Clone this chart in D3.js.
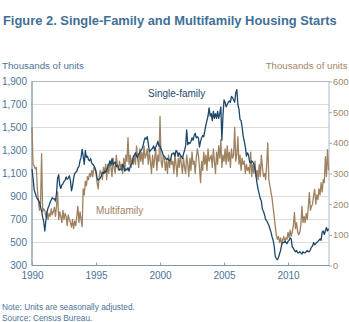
<!DOCTYPE html>
<html>
<head>
<meta charset="utf-8">
<script src="https://cdn.jsdelivr.net/npm/d3@7"></script>
<style>
  html, body { margin: 0; padding: 0; background: #fff; }
  svg { display: block; font-family: "Liberation Sans", Arial, sans-serif; }
</style>
</head>
<body>
<svg id="chart" width="349" height="322"></svg>
<script>
// Monthly housing starts, thousands of units (SAAR), Jan 1990 .. Mar 2013.
// One row per year.
const START_YEAR = 1990;
const SINGLE_FAMILY = [
  [1140,1060, 960, 930, 900, 880, 870, 850, 810, 770, 720, 680],  // 1990
  [ 600, 690, 760, 800, 820, 850, 870, 890, 880, 880, 860, 930],  // 1991
  [1060,1090,1000, 970,1000,1010,1030,1040,1070,1050,1060,1080],  // 1992
  [1040, 950, 990,1060,1100,1110,1120,1150,1160,1210,1240,1310],  // 1993
  [1250,1180,1300,1240,1250,1220,1210,1230,1190,1180,1170,1150],  // 1994
  [1120,1060,1040,1050,1060,1080,1110,1100,1120,1110,1130,1160],  // 1995
  [1180,1210,1170,1230,1180,1190,1200,1160,1170,1150,1130,1140],  // 1996
  [1130,1180,1160,1120,1140,1130,1150,1120,1160,1180,1190,1250],  // 1997
  [1260,1280,1250,1240,1270,1280,1300,1310,1340,1380,1410,1400],  // 1998
  [1420,1360,1290,1300,1310,1320,1340,1300,1330,1350,1380,1340],  // 1999
  [1340,1310,1290,1260,1250,1240,1220,1230,1220,1210,1220,1270],  // 2000
  [1270,1280,1250,1300,1290,1250,1280,1260,1250,1230,1270,1300],  // 2001
  [1340,1480,1350,1370,1360,1380,1410,1390,1430,1450,1410,1420],  // 2002
  [1410,1330,1380,1410,1430,1420,1470,1520,1560,1600,1670,1600],  // 2003
  [1620,1560,1640,1580,1620,1580,1640,1580,1620,1680,1390,1600],  // 2004
  [1740,1720,1680,1700,1720,1730,1720,1770,1760,1740,1720,1800],  // 2005
  [1830,1700,1660,1570,1560,1500,1420,1380,1330,1250,1280,1260],  // 2006
  [1200,1190,1210,1200,1180,1140,1080,1010, 960, 920, 880, 860],  // 2007
  [ 790, 770, 740, 700, 690, 670, 650, 620, 590, 550, 520, 470],  // 2008
  [ 380, 360, 350, 370, 400, 430, 480, 500, 500, 510, 500, 490],  // 2009
  [ 510, 520, 540, 530, 460, 450, 430, 420, 430, 410, 410, 420],  // 2010
  [ 410, 400, 420, 410, 410, 420, 430, 420, 420, 440, 460, 470],  // 2011
  [ 500, 480, 490, 500, 510, 520, 530, 520, 590, 600, 570, 600],  // 2012
  [ 630, 600, 620]                                                 // 2013
];
const MULTIFAMILY = [
  [450, 330, 325, 315, 320, 250, 210, 180, 200, 365, 175, 185],  // 1990
  [180, 160, 175, 150, 170, 160, 185, 165, 175, 190, 160, 195],  // 1991
  [240, 150, 175, 160, 140, 180, 150, 170, 160, 130, 165, 150],  // 1992
  [140, 125, 150, 120, 145, 130, 160, 193, 140, 175, 150, 127],  // 1993
  [250, 230, 275, 260, 290, 280, 300, 290, 310, 290, 320, 315],  // 1994
  [300, 270, 250, 290, 310, 300, 280, 320, 300, 330, 280, 330],  // 1995
  [300, 340, 320, 290, 350, 320, 300, 360, 330, 310, 340, 320],  // 1996
  [330, 300, 350, 310, 360, 340, 417, 330, 360, 320, 350, 330],  // 1997
  [360, 330, 390, 350, 320, 380, 340, 370, 330, 390, 350, 360],  // 1998
  [380, 330, 370, 340, 300, 360, 320, 350, 380, 310, 360, 340],  // 1999
  [486, 340, 320, 360, 350, 310, 340, 300, 360, 320, 350, 330],  // 2000
  [340, 300, 360, 330, 290, 350, 320, 360, 330, 300, 350, 320],  // 2001
  [300, 360, 330, 290, 350, 310, 370, 330, 340, 300, 350, 380],  // 2002
  [360, 320, 270, 340, 310, 370, 330, 360, 310, 380, 340, 350],  // 2003
  [360, 320, 380, 340, 300, 370, 330, 390, 350, 410, 320, 360],  // 2004
  [340, 380, 330, 390, 340, 370, 320, 380, 350, 360, 450, 340],  // 2005
  [360, 420, 330, 360, 310, 350, 330, 340, 300, 330, 310, 320],  // 2006
  [300, 370, 290, 330, 300, 340, 290, 310, 280, 330, 290, 360],  // 2007
  [320, 290, 300, 280, 330, 400, 280, 260, 240, 220, 190, 160],  // 2008
  [130, 100,  85,  95,  75,  90,  70,  85,  95,  75,  90,  85],  // 2009
  [108,  90, 115,  95, 110, 130, 173, 120, 140, 110, 100, 108],  // 2010
  [130, 193, 140, 160, 140, 170, 150, 190, 238, 180, 193, 200],  // 2011
  [230, 248, 200, 230, 215, 250, 230, 270, 240, 280, 270, 355],  // 2012
  [290, 378, 310]                                                 // 2013
];
const LEFT_TICKS = [300, 500, 700, 900, 1100, 1300, 1500, 1700, 1900];
const RIGHT_TICKS = [0, 100, 200, 300, 400, 500, 600];
const YEAR_TICKS = [1990, 1995, 2000, 2005, 2010];

const monthly = rows => rows.flat().map((v,i)=>({t: START_YEAR + i/12, v}));
const sf = monthly(SINGLE_FAMILY), mf = monthly(MULTIFAMILY);

const C_TITLE = "#3f6f95", C_LEFT = "#4c7398", C_RIGHT = "#a18663";
const C_SF = "#1d4769", C_MF = "#9e8260";

const svg = d3.select("#chart");
const L = 32, R = 329, T = 81.5, B = 265.5;

const x = d3.scaleLinear().domain([1990, 2013.2]).range([L, R]);
const yL = d3.scaleLinear().domain([300, 1900]).range([B, T]);
const yR = d3.scaleLinear().domain([0, 600]).range([B, T]);

// title + axis titles
svg.append("text").attr("x", 3).attr("y", 25)
   .attr("font-size", 12.9).attr("font-weight", "bold").attr("fill", C_TITLE)
   .text("Figure 2. Single-Family and Multifamily Housing Starts");
svg.append("text").attr("x", 2).attr("y", 69).attr("font-size", 9.7).attr("fill", C_LEFT)
   .text("Thousands of units");
svg.append("text").attr("x", 347.5).attr("y", 69).attr("font-size", 9.7).attr("fill", C_RIGHT)
   .attr("text-anchor", "end").text("Thousands of units");

// gridlines
svg.append("g").selectAll("line").data(LEFT_TICKS.slice(1, -1)).join("line")
   .attr("x1", L).attr("x2", R).attr("y1", d=>yL(d)).attr("y2", d=>yL(d))
   .attr("stroke", "#dcdcdc").attr("stroke-width", 1);

// left axis
const gl = svg.append("g").attr("transform", `translate(${L},0)`)
   .call(d3.axisLeft(yL).tickValues(LEFT_TICKS).tickSize(0).tickPadding(5)
           .tickFormat(d3.format(",")));
gl.select(".domain").remove();
gl.selectAll("text").attr("font-size", 10).attr("fill", C_LEFT).attr("font-family", null);

// right axis
const gr = svg.append("g").attr("transform", `translate(${R},0)`)
   .call(d3.axisRight(yR).tickValues(RIGHT_TICKS).tickSize(3).tickPadding(1));
gr.select(".domain").remove();
gr.selectAll("line").attr("stroke", "#9aa9b6");
gr.selectAll("text").attr("font-size", 9.4).attr("fill", C_RIGHT).attr("font-family", null);

// bottom axis, ticks pointing into the plot
const gb = svg.append("g").attr("transform", `translate(0,${B})`)
   .call(d3.axisBottom(x).tickValues(YEAR_TICKS).tickSize(-3).tickPadding(6)
           .tickFormat(d3.format("d")));
gb.select(".domain").remove();
gb.selectAll("line").attr("stroke", "#8a9aa8");
gb.selectAll("text").attr("font-size", 10).attr("fill", C_LEFT).attr("font-family", null)
   .attr("dy", "0.75em");

// plot frame
svg.append("rect").attr("x", L).attr("y", T).attr("width", R-L).attr("height", B-T)
   .attr("fill", "none").attr("stroke", "#a9bccb").attr("stroke-width", 1);
svg.append("line").attr("x1", L).attr("x2", L).attr("y1", T).attr("y2", B)
   .attr("stroke", "#7f97ab");
svg.append("line").attr("x1", L).attr("x2", R).attr("y1", B).attr("y2", B)
   .attr("stroke", "#7f97ab");

// series
svg.append("path").datum(mf)
   .attr("d", d3.line().x(d=>x(d.t)).y(d=>yR(d.v)))
   .attr("fill", "none").attr("stroke", C_MF).attr("stroke-width", 1.3)
   .attr("stroke-linejoin", "round");
svg.append("path").datum(sf)
   .attr("d", d3.line().x(d=>x(d.t)).y(d=>yL(d.v)))
   .attr("fill", "none").attr("stroke", C_SF).attr("stroke-width", 1.3)
   .attr("stroke-linejoin", "round");

// series labels
svg.append("text").attr("x", 148).attr("y", 97).attr("font-size", 10).attr("fill", C_SF)
   .text("Single-family");
svg.append("text").attr("x", 96).attr("y", 214).attr("font-size", 10).attr("fill", C_MF)
   .text("Multifamily");

// notes
svg.append("text").attr("x", 2).attr("y", 309.5).attr("font-size", 8.3).attr("fill", C_LEFT)
   .text("Note: Units are seasonally adjusted.");
svg.append("text").attr("x", 2).attr("y", 321).attr("font-size", 8.3).attr("fill", C_LEFT)
   .text("Source: Census Bureau.");
</script>
</body>
</html>
